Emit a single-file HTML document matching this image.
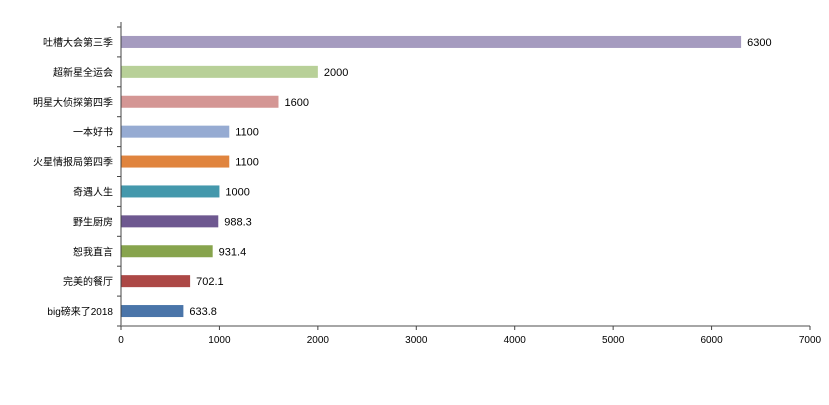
<!DOCTYPE html>
<html><head><meta charset="utf-8"><style>
body{margin:0;background:#fff;}
svg{display:block;font-family:"Liberation Sans","Noto Sans CJK SC",sans-serif;}
</style></head><body>
<svg id="chart" width="829" height="405"></svg>
<script>
const categories=["吐槽大会第三季","超新星全运会","明星大侦探第四季","一本好书","火星情报局第四季","奇遇人生","野生厨房","恕我直言","完美的餐厅","big磅来了2018"];
const values=[6300,2000,1600,1100,1100,1000,988.3,931.4,702.1,633.8];
const labels=["6300","2000","1600","1100","1100","1000","988.3","931.4","702.1","633.8"];
const colors=["#a59bbf","#b8d098","#d49694","#96abd2","#e0843e","#4498ac","#6e5890","#87a44d","#ac4846","#4a75a9"];
const ticks=[0,1000,2000,3000,4000,5000,6000,7000];
const svg=document.getElementById('chart');
const NS="http://www.w3.org/2000/svg";
const x0=121,x1=810,yTop=27,yBot=326,xMax=7000;
const xs=v=>x0+(v/xMax)*(x1-x0);
const band=(yBot-yTop)/categories.length;
const yc=i=>yTop+band*(i+0.5);
function mk(t,a){const e=document.createElementNS(NS,t);for(const k in a)e.setAttribute(k,a[k]);svg.appendChild(e);return e;}
categories.forEach((c,i)=>{
 const r=mk('rect',{x:x0,y:yc(i)-6,width:xs(values[i])-x0,height:12,fill:colors[i]});
 
 
 const v=mk('text',{x:xs(values[i])+6,y:yc(i)+4,'font-size':11,fill:'#000'});
 v.textContent=labels[i];
 
 
 const l=mk('text',{x:x0-8,y:yc(i)+4,'font-size':10,'text-anchor':'end',fill:'#000'});
 l.textContent=c;
 
 
});
for(let i=0;i<=categories.length;i++){
 const t=mk('line',{x1:x0-4,x2:x0,y1:yTop+band*i,y2:yTop+band*i,stroke:'#444'});
 
 
}
const ya=mk('line',{x1:x0,x2:x0,y1:yTop-5,y2:yBot,stroke:'#444'});


const xa=mk('line',{x1:x0,x2:x1,y1:yBot,y2:yBot,stroke:'#888','stroke-width':1.5});


ticks.forEach(t=>{
 const tk=mk('line',{x1:xs(t),x2:xs(t),y1:yBot,y2:yBot+4,stroke:'#444'});
 
 
 const tx=mk('text',{x:xs(t),y:yBot+17,'font-size':10,'text-anchor':'middle',fill:'#000'});
 tx.textContent=t;
 
 
});
</script>
</body></html>
